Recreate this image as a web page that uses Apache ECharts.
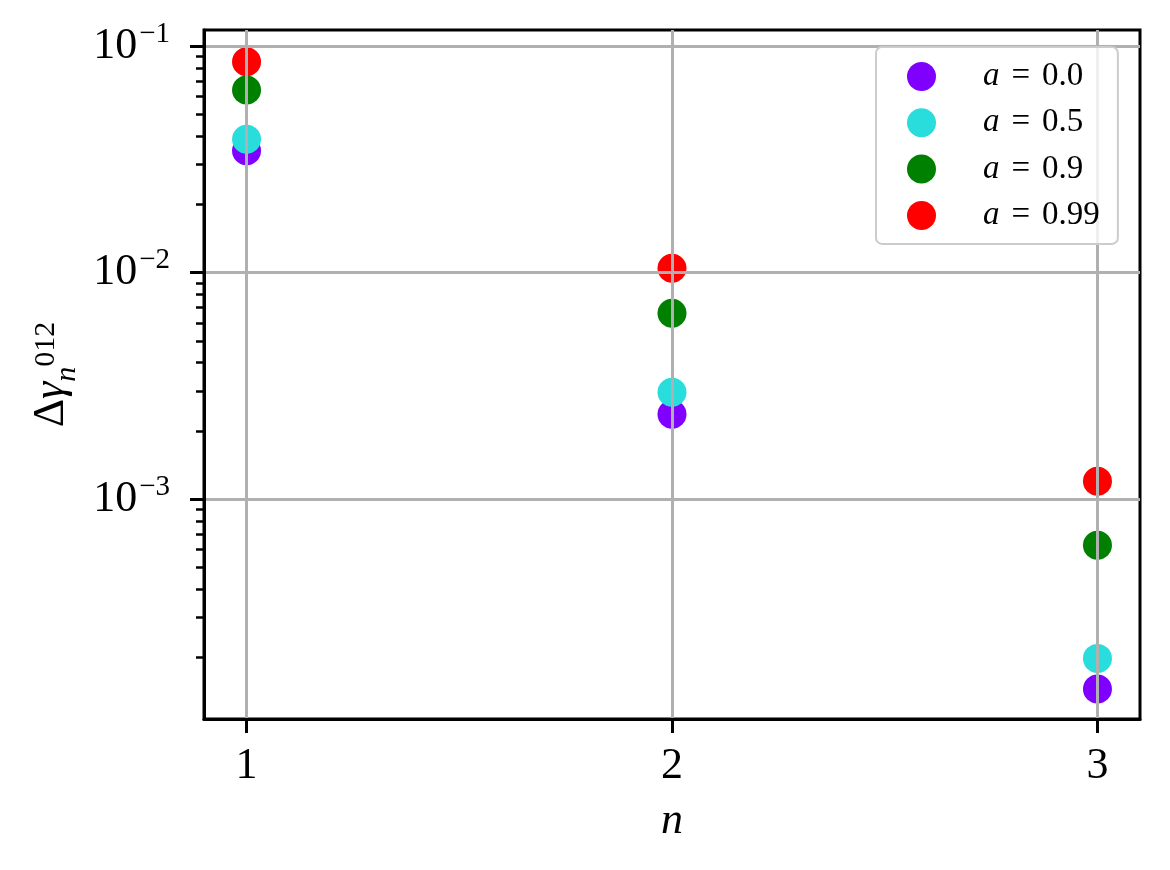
<!DOCTYPE html>
<html>
<head>
<meta charset="utf-8">
<script src="https://cdn.jsdelivr.net/npm/echarts@6/dist/echarts.min.js"></script>
<style>
  html, body { margin: 0; padding: 0; background: #fff; }
  #chart { width: 1170px; height: 870px; }
</style>
</head>
<body>
<div id="chart"></div>
<script>
// data
const nValues = [1, 2, 3];
const spinLabels = ["0.0", "0.5", "0.9", "0.99"];
const gammaA00 = [0.0345, 0.00237, 0.000145];
const gammaA05 = [0.0388, 0.00296, 0.000198];
const gammaA09 = [0.0640, 0.00661, 0.000626];
const gammaA099 = [0.0853, 0.01044, 0.00120];
const colors = ["#7f00ff", "#2adddd", "#008000", "#ff0000"];
const xTicks = [1, 2, 3];
const yMajorExp = [-3, -2, -1];

const yMin = -3.971, yMax = -0.929;
const serif = '"Liberation Serif", "DejaVu Serif", serif';

// minor log ticks (2..9 x 10^k) inside the range
const yMinor = [];
for (let k = -4; k <= -1; k++) {
  for (let m = 2; m <= 9; m++) {
    const v = Math.log10(m) + k;
    if (v > yMin && v < yMax) yMinor.push(v);
  }
}

const allSeries = [gammaA00, gammaA05, gammaA09, gammaA099];

const chart = echarts.init(document.getElementById("chart"));

chart.setOption({
  animation: false,
  backgroundColor: "#fff",
  textStyle: { fontFamily: serif },
  grid: {
    left: 204, right: 30, top: 30, bottom: 151,
    show: true, borderColor: "#000", borderWidth: 3,
    outerBoundsMode: "none"
  },
  legend: {
    left: 876, top: 47, orient: "vertical", z: 10,
    padding: [13, 12, 12, 31],
    itemWidth: 29, itemHeight: 29, itemGap: 13.3,
    icon: "circle",
    backgroundColor: "rgba(255,255,255,0.8)",
    borderColor: "#cccccc", borderWidth: 2, borderRadius: 6,
    formatter: name => "{gap|}{i|a}{eq|=}{v|" + name + "}",
    textStyle: {
      fontFamily: serif, fontSize: 33, lineHeight: 29, color: "#000",
      rich: {
        gap: { width: 42, lineHeight: 29 },
        i: { fontFamily: serif, fontSize: 33, fontStyle: "italic", lineHeight: 29 },
        eq: { fontFamily: serif, fontSize: 33, padding: [0, 12, 0, 12], lineHeight: 29 },
        v: { fontFamily: serif, fontSize: 33, lineHeight: 29, padding: [0, 6, 0, 0] }
      }
    }
  },
  xAxis: {
    type: "value", min: 0.9, max: 3.1, z: 3,
    name: "n", nameLocation: "middle", nameGap: 80,
    nameMoveOverlap: false,
    nameTextStyle: { fontFamily: serif, fontSize: 44, fontStyle: "italic", color: "#000" },
    axisLine: { show: true, lineStyle: { color: "#000", width: 3 } },
    axisTick: { show: true, customValues: xTicks, length: 14, lineStyle: { color: "#000", width: 3 } },
    axisLabel: { customValues: xTicks, margin: 25, fontFamily: serif, fontSize: 44, color: "#000" },
    splitLine: { show: true, lineStyle: { color: "#b0b0b0", width: 3 } }
  },
  yAxis: [{
    type: "value", min: yMin, max: yMax, z: 3,
    name: "Δ{g|γ}{sub|n}{sup|012}", nameLocation: "middle", nameGap: 122,
    nameMoveOverlap: false,
    nameTextStyle: {
      fontFamily: serif, fontSize: 44, color: "#000", lineHeight: 62,
      rich: {
        g: { fontFamily: serif, fontSize: 44, fontStyle: "italic", lineHeight: 62 },
        sub: { fontFamily: serif, fontSize: 30, fontStyle: "italic", lineHeight: 30, verticalAlign: "bottom" },
        sup: { fontFamily: serif, fontSize: 30, lineHeight: 30, padding: [0, 0, 10, 0] }
      }
    },
    axisLine: { show: true, lineStyle: { color: "#000", width: 3 } },
    axisTick: { show: true, customValues: yMajorExp, length: 14, lineStyle: { color: "#000", width: 3 } },
    axisLabel: {
      customValues: yMajorExp, margin: 34, color: "#000",
      formatter: v => "{b|10}{s|−" + Math.round(-v) + "}",
      rich: {
        b: { fontFamily: serif, fontSize: 44, lineHeight: 44 },
        s: { fontFamily: serif, fontSize: 29, lineHeight: 29, padding: [0, 0, 24, 2] }
      }
    },
    splitLine: { show: true, lineStyle: { color: "#b0b0b0", width: 3 } }
  }, {
    type: "value", min: yMin, max: yMax, position: "left", z: 3,
    axisLine: { show: false },
    axisTick: { show: true, customValues: yMinor, length: 8, lineStyle: { color: "#000", width: 2.5 } },
    axisLabel: { show: false },
    splitLine: { show: false }
  }],
  series: allSeries.map((vals, i) => ({
    name: spinLabels[i],
    type: "scatter",
    z: 2,
    symbolSize: 29,
    itemStyle: { color: colors[i], opacity: 1 },
    data: vals.map((v, j) => [nValues[j], Math.log10(v)])
  }))
});
</script>
</body>
</html>
